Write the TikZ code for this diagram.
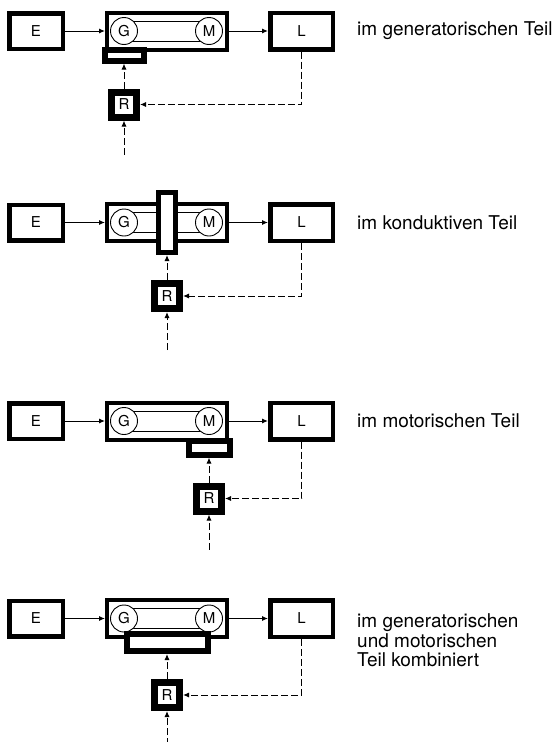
\documentclass[tikz,border=0pt]{standalone}
\usepackage{fontspec}
\setmainfont{TeX Gyre Heros}
\usetikzlibrary{arrows.meta,positioning,backgrounds}

\begin{document}
\begin{tikzpicture}[
  x=1pt,y=1pt,>={Latex[length=6pt,width=5pt]},
  blk/.style={draw,line width=4.5pt,fill=white,font=\fontsize{15}{17}\selectfont,minimum width=53.5pt,minimum height=35.5pt,inner sep=0pt},
  load/.style={blk,minimum width=62.5pt,minimum height=36.5pt},
  mach/.style={draw,line width=4pt,minimum width=120pt,minimum height=37pt,inner sep=0pt},
  rad/.style={draw,circle,line width=0.9pt,fill=white,minimum size=27pt,inner sep=0pt,font=\fontsize{15}{17}\selectfont},
  ctl/.style={draw,line width=6pt,fill=white,inner sep=0pt},
  reg/.style={draw,line width=7pt,fill=white,minimum size=25pt,inner sep=0pt,font=\fontsize{15}{17}\selectfont},
  belt/.style={line width=0.9pt},
  ar/.style={->,line width=1pt},
  fb/.style={->,line width=1pt,dash pattern=on 7pt off 3pt},
  lab/.style={font=\fontsize{19}{19.5}\selectfont,align=left,inner sep=0pt}
]
\useasboundingbox (0,0) rectangle (555,-742);

% generatorisch
\node[blk] (e1) at (36,-31) {E};
\node[mach,right=40pt of e1] (m1) {};
\node[rad] (g1) at ([xshift=19pt]m1.west) {G};
\node[rad] (mo1) at ([xshift=-20pt]m1.east) {M};
\node[load,right=39pt of m1] (l1) {L};
\node[ctl,minimum width=39pt,minimum height=11pt] (c1) at ([yshift=-3.5pt]g1 |- m1.south) {};
\node[reg,below=25pt of c1] (r1) {R};
\coordinate[below=34pt of r1] (i1);
\node[lab,right=22pt of l1] (t1) {im generatorischen Teil};

% konduktiv
\node[blk] (e2) at (36,-222.5) {E};
\node[mach,right=40pt of e2] (m2) {};
\node[rad] (g2) at ([xshift=19pt]m2.west) {G};
\node[rad] (mo2) at ([xshift=-20pt]m2.east) {M};
\node[load,right=39pt of m2] (l2) {L};
\node[ctl,line width=5pt,minimum width=17pt,minimum height=60pt] (c2) at (m2) {};
\node[reg,below=25pt of c2] (r2) {R};
\coordinate[below=38pt of r2] (i2);
\node[lab,right=22pt of l2] (t2) {im konduktiven Teil};

% motorisch
\node[blk] (e3) at (36,-421) {E};
\node[mach,right=40pt of e3] (m3) {};
\node[rad] (g3) at ([xshift=19pt]m3.west) {G};
\node[rad] (mo3) at ([xshift=-20pt]m3.east) {M};
\node[load,right=39pt of m3] (l3) {L};
\node[ctl,minimum width=41pt,minimum height=14pt] (c3) at ([yshift=-6pt]mo3 |- m3.south) {};
\node[reg,below=25pt of c3] (r3) {R};
\coordinate[below=35pt of r3] (i3);
\node[lab,right=22pt of l3] (t3) {im motorischen Teil};

% kombiniert
\node[blk] (e4) at (36,-618.5) {E};
\node[mach,right=40pt of e4] (m4) {};
\node[rad] (g4) at ([xshift=19pt]m4.west) {G};
\node[rad] (mo4) at ([xshift=-20pt]m4.east) {M};
\node[load,right=39pt of m4] (l4) {L};
\node[ctl,minimum width=81pt,minimum height=17pt] (c4) at ([yshift=-3.5pt]m4.south) {};
\node[reg,below=25pt of c4] (r4) {R};
\coordinate[below=34pt of r4] (i4);
\node[lab,anchor=north west] (t4) at ([xshift=22pt,yshift=5pt]l4.east) {im generatorischen\\und motorischen\\Teil kombiniert};

% belts
\begin{scope}[on background layer]
  \foreach \i in {1,2,3,4} {
    \draw[belt] ([yshift=10pt]g\i.center) -- ([yshift=10pt]mo\i.center);
    \draw[belt] ([yshift=-10pt]g\i.center) -- ([yshift=-10pt]mo\i.center);
  }
\end{scope}

% arrows
\foreach \i in {1,2,3,4} {
  \draw[ar] (e\i) -- (m\i);
  \draw[ar] (m\i) -- (l\i);
  \draw[fb] (l\i) |- (r\i);
  \draw[fb] (r\i.north) -- (r\i.north |- c\i.south);
  \draw[fb] (i\i) -- (r\i);
}
\end{tikzpicture}
\end{document}
